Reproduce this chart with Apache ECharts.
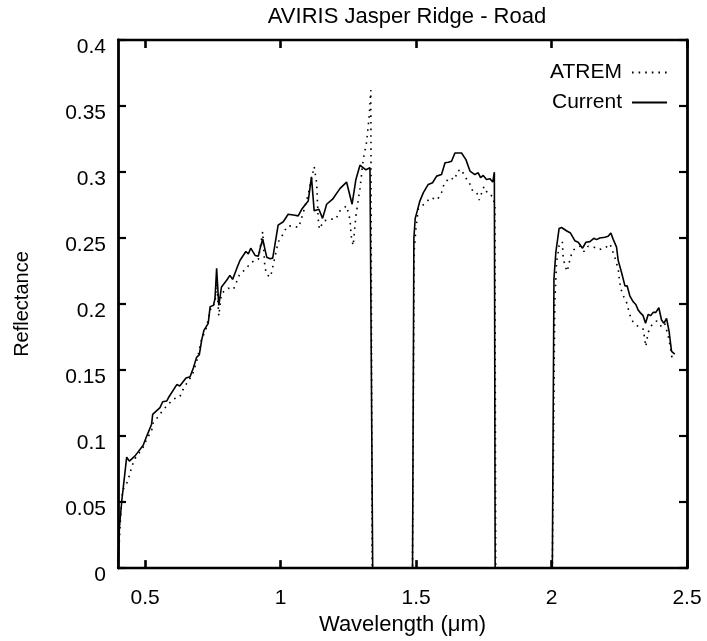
<!DOCTYPE html>
<html>
<head>
<meta charset="utf-8">
<script src="https://cdn.jsdelivr.net/npm/echarts@6/dist/echarts.min.js"></script>
<style>
html,body{margin:0;padding:0;background:#fff;}
#chart{width:707px;height:641px;}
</style>
</head>
<body>
<div id="chart"></div>
<script>
// ---- data ----
const titleText = 'AVIRIS Jasper Ridge - Road';
const xName = 'Wavelength (\u03bcm)';
const yName = 'Reflectance';
const xTicks = [0.5, 1, 1.5, 2, 2.5];

const currentWl = [0.400,0.405,0.414,0.432,0.442,0.463,0.493,0.506,0.524,0.528,0.555,0.565,0.580,0.586,0.617,0.628,0.651,0.666,0.678,0.690,0.700,0.709,0.717,0.733,0.740,0.752,0.758,0.764,0.772,0.782,0.801,0.813,0.823,0.838,0.850,0.862,0.872,0.881,0.890,0.906,0.918,0.924,0.934,0.942,0.949,0.961,0.971,0.991,1.010,1.028,1.053,1.065,1.078,1.102,1.114,1.124,1.1415,1.155,1.170,1.192,1.219,1.2435,1.264,1.278,1.293,1.315,1.330,1.336,1.340,1.36,1.40,1.44,1.487,1.492,1.497,1.5045,1.514,1.527,1.545,1.561,1.576,1.594,1.607,1.619,1.631,1.6435,1.668,1.684,1.699,1.717,1.7295,1.738,1.748,1.760,1.773,1.783,1.789,1.792,1.84,1.90,1.96,2.003,2.009,2.016,2.028,2.037,2.055,2.070,2.086,2.0985,2.1145,2.127,2.1417,2.156,2.166,2.178,2.197,2.209,2.219,2.228,2.240,2.246,2.258,2.271,2.279,2.289,2.3015,2.311,2.320,2.330,2.338,2.347,2.357,2.3655,2.375,2.385,2.396,2.406,2.4147,2.4245,2.434,2.443,2.455];
const currentVal = [0.000,0.030,0.051,0.084,0.081,0.085,0.093,0.100,0.109,0.1165,0.1215,0.126,0.1266,0.129,0.139,0.138,0.144,0.145,0.1516,0.1596,0.1616,0.1729,0.180,0.1854,0.198,0.199,0.204,0.227,0.199,0.213,0.218,0.2217,0.2187,0.2268,0.233,0.2368,0.2398,0.238,0.2423,0.2368,0.2363,0.2418,0.2493,0.2418,0.2355,0.2343,0.2348,0.2598,0.2623,0.268,0.2673,0.2668,0.2718,0.278,0.2964,0.2706,0.2718,0.2649,0.2756,0.2794,0.2874,0.2924,0.2756,0.2944,0.3052,0.3017,0.3032,0.3032,0,0,0,0,0,0.25,0.265,0.2706,0.278,0.2844,0.2906,0.2919,0.2969,0.2981,0.307,0.3074,0.3082,0.3144,0.3144,0.3094,0.3007,0.2981,0.2994,0.2957,0.2974,0.2944,0.2949,0.2924,0.2999,0,0,0,0,0,0.2192,0.2393,0.2573,0.258,0.2555,0.2538,0.248,0.2468,0.2423,0.2468,0.2473,0.2498,0.2488,0.25,0.2506,0.2513,0.2538,0.2488,0.2431,0.233,0.2243,0.2138,0.2138,0.2062,0.2017,0.1997,0.1954,0.1929,0.1912,0.1854,0.1922,0.1912,0.1937,0.1937,0.1972,0.1879,0.1854,0.1892,0.1792,0.1641,0.1621];

const atremWl = [0.400,0.410,0.417,0.432,0.442,0.451,0.463,0.493,0.506,0.524,0.530,0.549,0.567,0.586,0.604,0.628,0.643,0.675,0.692,0.709,0.723,0.745,0.758,0.764,0.772,0.782,0.807,0.826,0.848,0.872,0.893,0.918,0.934,0.942,0.949,0.963,0.971,0.991,1.007,1.024,1.042,1.067,1.084,1.102,1.124,1.133,1.139,1.143,1.160,1.182,1.204,1.219,1.2435,1.256,1.262,1.268,1.278,1.293,1.305,1.317,1.327,1.333,1.338,1.36,1.40,1.44,1.487,1.493,1.500,1.508,1.533,1.554,1.578,1.594,1.603,1.6225,1.6435,1.652,1.668,1.680,1.696,1.707,1.7235,1.733,1.7505,1.766,1.7826,1.791,1.794,1.84,1.90,1.96,2.003,2.012,2.0186,2.0245,2.028,2.040,2.043,2.053,2.058,2.065,2.074,2.083,2.105,2.120,2.1355,2.1565,2.175,2.197,2.216,2.2215,2.2345,2.2465,2.250,2.2555,2.265,2.277,2.286,2.295,2.311,2.323,2.338,2.344,2.348,2.357,2.369,2.388,2.406,2.418,2.431,2.437,2.447];
const atremVal = [0.000,0.041,0.059,0.064,0.070,0.077,0.083,0.0915,0.0977,0.104,0.110,0.115,0.120,0.124,0.128,0.1296,0.1366,0.1466,0.1578,0.174,0.1796,0.199,0.200,0.218,0.191,0.208,0.212,0.211,0.222,0.2268,0.2318,0.2338,0.2548,0.228,0.2222,0.2205,0.228,0.2468,0.2523,0.2588,0.2593,0.258,0.2694,0.2831,0.304,0.292,0.2643,0.2568,0.263,0.2643,0.2643,0.2706,0.2743,0.2643,0.2493,0.2443,0.2668,0.2874,0.3094,0.322,0.342,0.362,0,0,0,0,0,0.24,0.258,0.2718,0.2763,0.2806,0.2788,0.2844,0.2906,0.2957,0.2944,0.3007,0.302,0.2964,0.2924,0.2864,0.2849,0.2788,0.2889,0.2831,0.2818,0.2743,0,0,0,0,0,0.20,0.2318,0.2393,0.2443,0.2473,0.2343,0.2273,0.2247,0.2313,0.238,0.2413,0.2438,0.2398,0.2438,0.2431,0.2413,0.2423,0.2455,0.2423,0.2348,0.2262,0.2192,0.2117,0.2062,0.2012,0.1942,0.1879,0.1847,0.1822,0.1811,0.1736,0.1679,0.1787,0.1837,0.1872,0.1829,0.1854,0.1754,0.1691,0.1566];

const zip = (a, b) => a.map((v, i) => [v, b[i]]);

const FONT = 'Liberation Sans, Arial, sans-serif';

const chart = echarts.init(document.getElementById('chart'), null, {renderer: 'canvas'});
const xLine = {color: '#000', width: 2.3};
const xTick = {color: '#000', width: 2.6};
const yLine = {color: '#000', width: 2.8};
const yTick = {color: '#000', width: 2.2};
chart.setOption({
  backgroundColor: '#fff',
  animation: false,
  title: {
    text: titleText,
    left: 402,
    top: 1,
    textAlign: 'center',
    textStyle: {fontFamily: FONT, fontSize: 22, fontWeight: 'normal', color: '#000'}
  },
  legend: {
    orient: 'vertical',
    right: 34,
    top: 57,
    align: 'right',
    itemWidth: 35,
    itemHeight: 14,
    itemGap: 9,
    itemStyle: {color: 'transparent', borderWidth: 0, opacity: 0},
    textStyle: {fontFamily: FONT, fontSize: 21, color: '#000', padding: [0, 5, 0, 0]},
    data: ['ATREM', 'Current']
  },
  grid: {left: 118, right: 20, top: 40, bottom: 69, containLabel: false},
  xAxis: [{
    type: 'value', min: 0.4, max: 2.5, position: 'bottom',
    name: xName, nameLocation: 'middle', nameGap: 45,
    nameTextStyle: {fontFamily: FONT, fontSize: 22, color: '#000'},
    axisLine: {show: true, onZero: false, lineStyle: xLine},
    axisTick: {show: true, inside: true, length: 8, lineStyle: xTick, customValues: xTicks},
    axisLabel: {show: true, margin: 20, fontFamily: FONT, fontSize: 21, color: '#000', customValues: xTicks},
    splitLine: {show: false}
  }, {
    type: 'value', min: 0.4, max: 2.5, position: 'top',
    axisLine: {show: true, onZero: false, lineStyle: xLine},
    axisTick: {show: true, inside: true, length: 8, lineStyle: xTick, customValues: xTicks},
    axisLabel: {show: false},
    splitLine: {show: false}
  }],
  yAxis: [{
    type: 'value', min: 0, max: 0.4, interval: 0.05, position: 'left',
    name: yName, nameLocation: 'middle', nameGap: 86, nameRotate: 90,
    nameTextStyle: {fontFamily: FONT, fontSize: 20, color: '#000'},
    axisLine: {show: true, onZero: false, lineStyle: yLine},
    axisTick: {show: true, inside: true, length: 8, lineStyle: yTick},
    axisLabel: {show: true, margin: 12, verticalAlign: 'top', lineHeight: 14, fontFamily: FONT, fontSize: 21, color: '#000'},
    splitLine: {show: false}
  }, {
    type: 'value', min: 0, max: 0.4, interval: 0.05, position: 'right',
    axisLine: {show: true, onZero: false, lineStyle: yLine},
    axisTick: {show: true, inside: true, length: 8, lineStyle: yTick},
    axisLabel: {show: false},
    splitLine: {show: false}
  }],
  series: [{
    name: 'ATREM', type: 'line', symbol: 'none', xAxisIndex: 0, yAxisIndex: 0,
    data: zip(atremWl, atremVal),
    lineStyle: {color: '#000', width: 1.6, type: [1.6, 5]},
    itemStyle: {color: '#000'}
  }, {
    name: 'Current', type: 'line', symbol: 'none', xAxisIndex: 0, yAxisIndex: 0,
    data: zip(currentWl, currentVal),
    lineStyle: {color: '#000', width: 1.6, type: 'solid'},
    itemStyle: {color: '#000'}
  }]
});
</script>
</body>
</html>
